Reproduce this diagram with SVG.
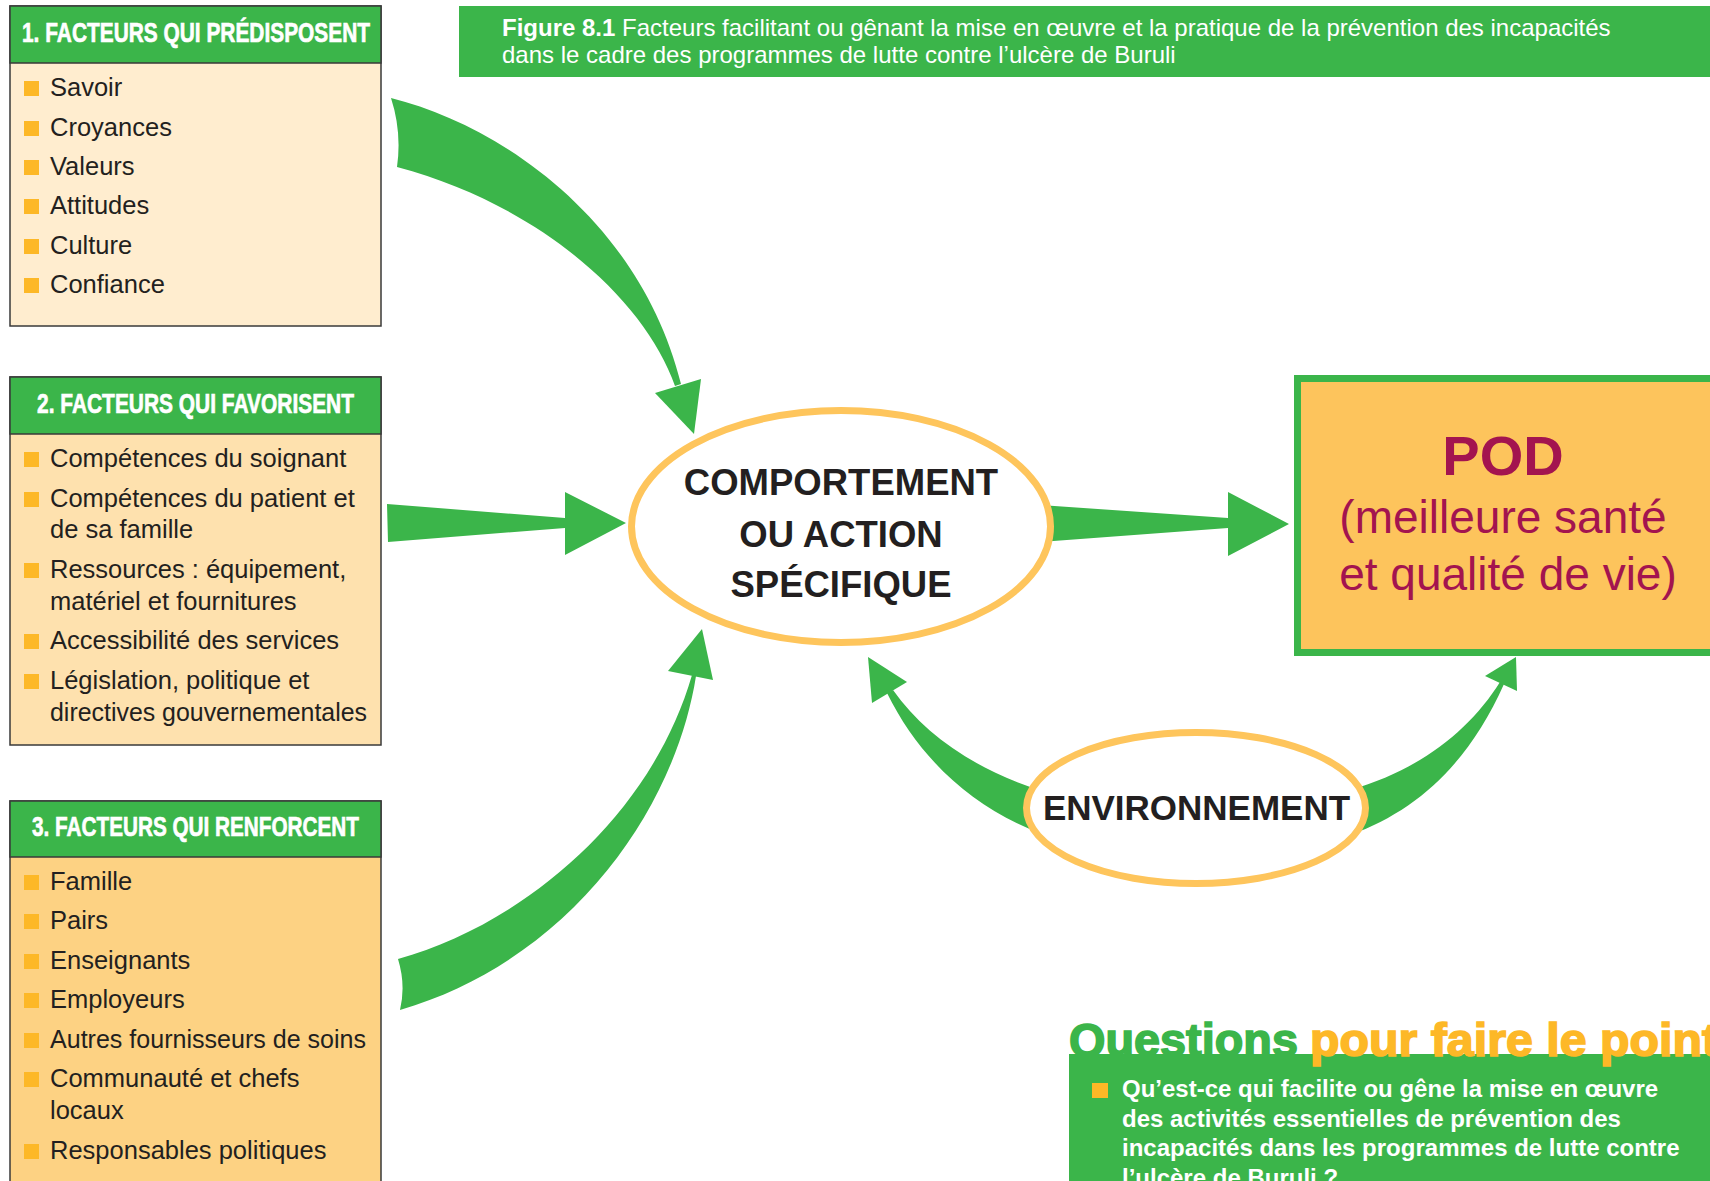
<svg xmlns="http://www.w3.org/2000/svg" width="1710" height="1181" viewBox="0 0 1710 1181">
<style>
.box{stroke:#3a3a3a;stroke-width:1.5}
.hdr{fill:#3BB54A;stroke:#3a3a3a;stroke-width:1.5}
.ht{font-family:"Liberation Sans Narrow","Liberation Sans",Arial,sans-serif;font-weight:bold;font-size:28px;fill:#ffffff;stroke:#ffffff;stroke-width:0.7}
.it{font-family:"Liberation Sans",Arial,sans-serif;font-size:25.5px;fill:#231F20}
.bul{fill:#FDB827}
.arr{fill:#3BB54A}
.ell{fill:#ffffff;stroke:#FEC55C;stroke-width:7}
.et{font-family:"Liberation Sans",Arial,sans-serif;font-weight:bold;fill:#231F20;text-anchor:middle}
.pod{font-family:"Liberation Sans",Arial,sans-serif;fill:#A3144F;text-anchor:middle}
.tt{font-family:"Liberation Sans",Arial,sans-serif;font-size:24px;fill:#ffffff}
.qt{font-family:"Liberation Sans",Arial,sans-serif;font-weight:bold;font-size:24px;fill:#ffffff}
.qh{font-family:"Liberation Sans",Arial,sans-serif;font-weight:bold;font-size:46px;stroke-width:1.6}
</style>
<rect width="1710" height="1181" fill="#ffffff"/>

<g id="title">
<rect x="459" y="6" width="1260" height="71" fill="#3BB54A"/>
<text class="tt" x="502" y="36"><tspan font-weight="bold">Figure 8.1</tspan> Facteurs facilitant ou gênant la mise en œuvre et la pratique de la prévention des incapacités</text>
<text class="tt" x="502" y="63">dans le cadre des programmes de lutte contre l’ulcère de Buruli</text>
</g>

<g id="connectors">
<path class="arr" d="M391,98 C500,125 640,220 681,384 L675,386 C645,300 540,205 397,167 Q402,132 391,98 Z"/>
<polygon class="arr" points="655,393 701,379 694,434"/>
<polygon class="arr" points="387,504 565,518 565,492 626,523 565,555 565,528 388,542"/>
<path class="arr" d="M398,959 C520,925 650,820 692,675 L696,676 C675,810 570,960 400,1010 Q406,985 398,959 Z"/>
<polygon class="arr" points="668,671 713,680 702,629"/>
<polygon class="arr" points="1040,505 1228,518 1228,492 1289,524 1228,556 1228,528 1040,542"/>
<path class="arr" d="M893,690 C925,735 975,770 1045,792 L1045,835 C975,810 920,760 887,693 Z"/>
<polygon class="arr" points="868,657 872,703 907,682"/>
<path class="arr" d="M1500,682 C1470,730 1420,770 1350,790 L1350,835 C1420,810 1470,760 1504,684 Z"/>
<polygon class="arr" points="1516,657 1485,676 1517,691"/>
</g>

<g id="box1">
<rect class="box" x="10" y="6" width="371" height="320" fill="#FFEDCF"/>
<rect class="hdr" x="10" y="6" width="371" height="57"/>
<text class="ht" x="22" y="42" textLength="348" lengthAdjust="spacingAndGlyphs">1. FACTEURS QUI PRÉDISPOSENT</text>
<rect class="bul" x="24" y="81" width="15" height="15"/><text class="it" x="50" y="96">Savoir</text>
<rect class="bul" x="24" y="121" width="15" height="15"/><text class="it" x="50" y="136">Croyances</text>
<rect class="bul" x="24" y="160" width="15" height="15"/><text class="it" x="50" y="175">Valeurs</text>
<rect class="bul" x="24" y="199" width="15" height="15"/><text class="it" x="50" y="214">Attitudes</text>
<rect class="bul" x="24" y="239" width="15" height="15"/><text class="it" x="50" y="254">Culture</text>
<rect class="bul" x="24" y="278" width="15" height="15"/><text class="it" x="50" y="293">Confiance</text>
</g>

<g id="box2">
<rect class="box" x="10" y="377" width="371" height="368" fill="#FEE1AE"/>
<rect class="hdr" x="10" y="377" width="371" height="57"/>
<text class="ht" x="37" y="413" textLength="317" lengthAdjust="spacingAndGlyphs">2. FACTEURS QUI FAVORISENT</text>
<rect class="bul" x="24" y="452" width="15" height="15"/><text class="it" x="50" y="467">Compétences du soignant</text>
<rect class="bul" x="24" y="492" width="15" height="15"/><text class="it" x="50" y="507">Compétences du patient et</text>
<text class="it" x="50" y="538">de sa famille</text>
<rect class="bul" x="24" y="563" width="15" height="15"/><text class="it" x="50" y="578">Ressources : équipement,</text>
<text class="it" x="50" y="610">matériel et fournitures</text>
<rect class="bul" x="24" y="634" width="15" height="15"/><text class="it" x="50" y="649">Accessibilité des services</text>
<rect class="bul" x="24" y="674" width="15" height="15"/><text class="it" x="50" y="689">Législation, politique et</text>
<text class="it" x="50" y="721" textLength="317" lengthAdjust="spacingAndGlyphs">directives gouvernementales</text>
</g>

<g id="box3">
<rect class="box" x="10" y="801" width="371" height="400" fill="#FDD283"/>
<rect class="hdr" x="10" y="801" width="371" height="56"/>
<text class="ht" x="32" y="836" textLength="327" lengthAdjust="spacingAndGlyphs">3. FACTEURS QUI RENFORCENT</text>
<rect class="bul" x="24" y="875" width="15" height="15"/><text class="it" x="50" y="890">Famille</text>
<rect class="bul" x="24" y="914" width="15" height="15"/><text class="it" x="50" y="929">Pairs</text>
<rect class="bul" x="24" y="954" width="15" height="15"/><text class="it" x="50" y="969">Enseignants</text>
<rect class="bul" x="24" y="993" width="15" height="15"/><text class="it" x="50" y="1008">Employeurs</text>
<rect class="bul" x="24" y="1033" width="15" height="15"/><text class="it" x="50" y="1048" textLength="316" lengthAdjust="spacingAndGlyphs">Autres fournisseurs de soins</text>
<rect class="bul" x="24" y="1072" width="15" height="15"/><text class="it" x="50" y="1087">Communauté et chefs</text>
<text class="it" x="50" y="1119">locaux</text>
<rect class="bul" x="24" y="1144" width="15" height="15"/><text class="it" x="50" y="1159">Responsables politiques</text>
</g>

<g id="comportement">
<ellipse class="ell" cx="841" cy="526.5" rx="209.5" ry="116"/>
<text class="et" x="841" y="495" font-size="36.5">COMPORTEMENT</text>
<text class="et" x="841" y="547" font-size="36.5">OU ACTION</text>
<text class="et" x="841" y="597" font-size="36.5">SPÉCIFIQUE</text>
</g>

<g id="pod">
<rect x="1297.5" y="378.5" width="420" height="274" fill="#FDC45C" stroke="#3BB54A" stroke-width="7"/>
<text class="pod" x="1503" y="475" font-size="56" font-weight="bold">POD</text>
<text class="pod" x="1503" y="533" font-size="46">(meilleure santé</text>
<text class="pod" x="1508" y="590" font-size="46">et qualité de vie)</text>
</g>

<g id="environnement">
<ellipse class="ell" cx="1196" cy="808" rx="169.5" ry="75.5"/>
<text class="et" x="1196.5" y="820" font-size="35">ENVIRONNEMENT</text>
</g>

<g id="questions">
<rect x="1069" y="1054" width="700" height="200" fill="#3BB54A"/>
<text class="qh" x="1069" y="1056" fill="#3BB54A" stroke="#3BB54A" textLength="229" lengthAdjust="spacingAndGlyphs">Questions</text>
<text class="qh" x="1310" y="1056" fill="#FDB827" stroke="#FDB827" textLength="408" lengthAdjust="spacingAndGlyphs">pour faire le point</text>
<rect class="bul" x="1092" y="1083" width="16" height="15"/>
<text class="qt" x="1122" y="1097">Qu’est-ce qui facilite ou gêne la mise en œuvre</text>
<text class="qt" x="1122" y="1126.5">des activités essentielles de prévention des</text>
<text class="qt" x="1122" y="1156">incapacités dans les programmes de lutte contre</text>
<text class="qt" x="1122" y="1185.5">l’ulcère de Buruli ?</text>
</g>
</svg>
